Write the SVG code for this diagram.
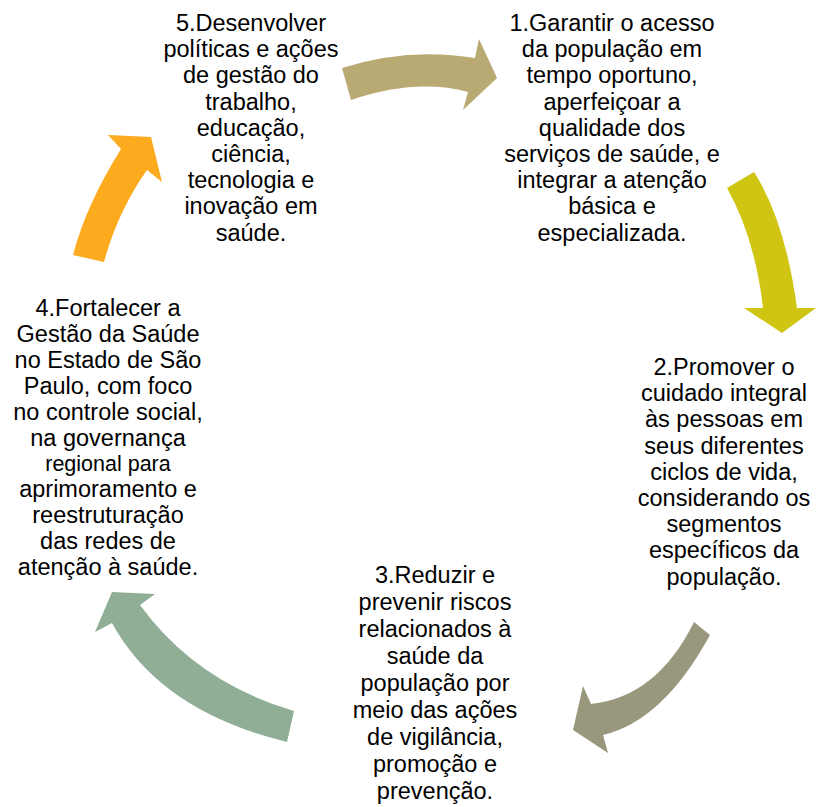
<svg xmlns="http://www.w3.org/2000/svg" width="816" height="807" viewBox="0 0 816 807">
<style>
text{font-family:"Liberation Sans",Arial,sans-serif;font-size:23.5px;fill:#000;text-anchor:middle}
.sm{font-size:21.5px}
</style>
<rect width="816" height="807" fill="#fff"/>
<g id="connectors">
<path id="arrow-5-1" fill="#B8AA72" d="M342,68 Q408,47 475,58 L479,39 L497,78 L463,110 L468,92 Q416,78 351,100 Z"/>
<path id="arrow-1-2" fill="#D0C513" d="M727,188 L754,172 Q785,220 797,308 L816,308 L782,333 L744,308 L763,308 Q755,238 727,188 Z"/>
<path id="arrow-2-3" fill="#9A987C" d="M694,622 L710,635 Q663,721 603,735 L608,753 L573,730 L583,686 L591,704 Q657,697 694,622 Z"/>
<path id="arrow-3-4" fill="#8FAE95" d="M294,711 L287,742 Q160,711 112,623 L95,632 L112,592 L155,594 L140,605 Q196,682 294,711 Z"/>
<path id="arrow-4-5" fill="#FCAB1F" d="M73,255 L104,262 Q118,211 147,170 L162,182 L151,137 L108,135 L121,149 Q86,205 73,255 Z"/>
</g>
<g id="node-5">
<text x="251" y="31">5.Desenvolver</text>
<text x="251" y="57.2">políticas e ações</text>
<text x="251" y="83.4">de gestão do</text>
<text x="251" y="109.6">trabalho,</text>
<text x="251" y="135.8">educação,</text>
<text x="251" y="162">ciência,</text>
<text x="251" y="188.2">tecnologia e</text>
<text x="251" y="214.4">inovação em</text>
<text x="251" y="240.6">saúde.</text>
</g>
<g id="node-1">
<text x="612" y="31">1.Garantir o acesso</text>
<text x="612" y="57.2">da população em</text>
<text x="612" y="83.4">tempo oportuno,</text>
<text x="612" y="109.6">aperfeiçoar a</text>
<text x="612" y="135.8">qualidade dos</text>
<text x="612" y="162">serviços de saúde, e</text>
<text x="612" y="188.2">integrar a atenção</text>
<text x="612" y="214.4">básica e</text>
<text x="612" y="240.6">especializada.</text>
</g>
<g id="node-2">
<text x="724" y="375">2.Promover o</text>
<text x="724" y="401.2">cuidado integral</text>
<text x="724" y="427.4">às pessoas em</text>
<text x="724" y="453.6">seus diferentes</text>
<text x="724" y="479.8">ciclos de vida,</text>
<text x="724" y="506">considerando os</text>
<text x="724" y="532.2">segmentos</text>
<text x="724" y="558.4">específicos da</text>
<text x="724" y="584.6">população.</text>
</g>
<g id="node-3">
<text x="435" y="583">3.Reduzir e</text>
<text x="435" y="610">prevenir riscos</text>
<text x="435" y="637">relacionados à</text>
<text x="435" y="664">saúde da</text>
<text x="435" y="691">população por</text>
<text x="435" y="718">meio das ações</text>
<text x="435" y="745">de vigilância,</text>
<text x="435" y="772">promoção e</text>
<text x="435" y="799">prevenção.</text>
</g>
<g id="node-4">
<text x="108" y="316">4.Fortalecer a</text>
<text x="108" y="341.9">Gestão da Saúde</text>
<text x="108" y="367.8">no Estado de São</text>
<text x="108" y="393.7">Paulo, com foco</text>
<text x="108" y="419.6">no controle social,</text>
<text x="108" y="445.5">na governança</text>
<text x="108" y="471.4" class="sm">regional para</text>
<text x="108" y="497.3">aprimoramento e</text>
<text x="108" y="523.2">reestruturação</text>
<text x="108" y="549.1">das redes de</text>
<text x="108" y="575">atenção à saúde.</text>
</g>
</svg>
